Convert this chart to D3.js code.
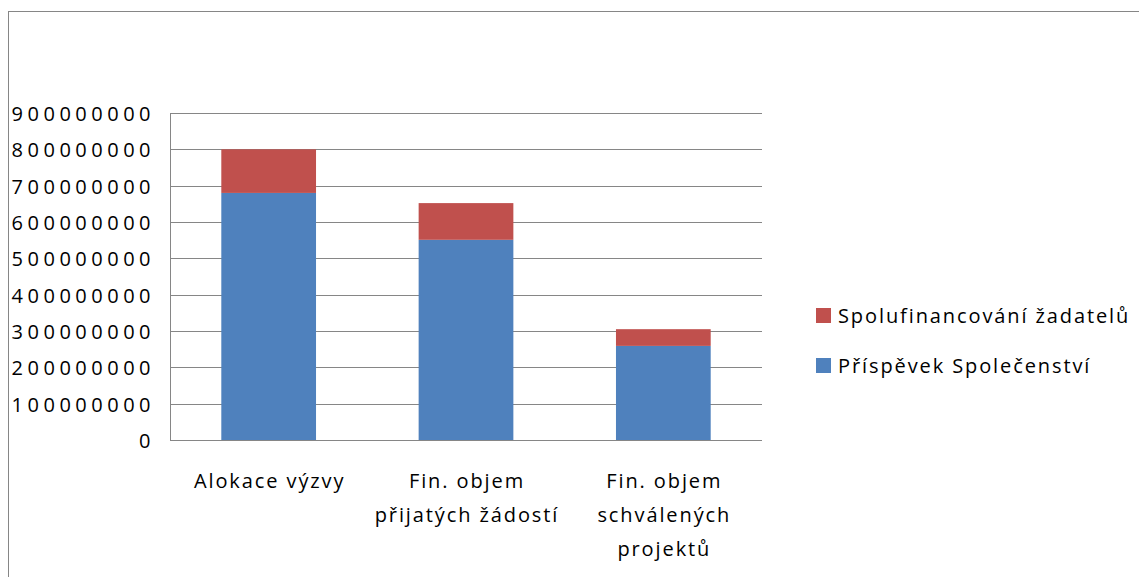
<!DOCTYPE html>
<html>
<head>
<meta charset="utf-8">
<script src="https://cdn.jsdelivr.net/npm/d3@7"></script>
<style>
  body { margin: 0; background: #fff; }
  svg text { font-family: "Open Sans", sans-serif; fill: #000; }
</style>
</head>
<body>
<div id="chart"></div>
<script>
// data
const categories = [
  ["Alokace výzvy"],
  ["Fin. objem", "přijatých žádostí"],
  ["Fin. objem", "schválených", "projektů"]
];
const prispevek = [680000000, 551000000, 259000000];
const spolufin = [120000000, 101000000, 46000000];
const seriesNames = ["Příspěvek Společenství", "Spolufinancování žadatelů"];
const yTicks = [0, 100000000, 200000000, 300000000, 400000000, 500000000, 600000000, 700000000, 800000000, 900000000];

const W = 1139, H = 577;
const plot = { left: 170, right: 762, top: 113, bottom: 440 };
const colors = ["#4F81BD", "#C0504D"];

const svg = d3.select("#chart").append("svg")
  .attr("width", W)
  .attr("height", H);

// outer chart border (runs off the right and bottom edge)
svg.append("rect")
  .attr("x", 8.5).attr("y", 11.5)
  .attr("width", 1300).attr("height", 700)
  .attr("fill", "none")
  .attr("stroke", "#868686");

const x = d3.scaleBand()
  .domain(d3.range(categories.length))
  .range([plot.left, plot.right])
  .paddingInner(0.52)
  .paddingOuter(0.26);

const y = d3.scaleLinear()
  .domain([0, 900000000])
  .range([plot.bottom, plot.top]);

// gridlines
svg.append("g")
  .selectAll("line")
  .data(yTicks)
  .join("line")
  .attr("x1", plot.left).attr("x2", plot.right)
  .attr("y1", d => Math.round(y(d)) + 0.5)
  .attr("y2", d => Math.round(y(d)) + 0.5)
  .attr("stroke", "#868686");

// left axis line
svg.append("line")
  .attr("x1", plot.left + 0.5).attr("x2", plot.left + 0.5)
  .attr("y1", plot.top).attr("y2", plot.bottom)
  .attr("stroke", "#868686");

// y tick labels
svg.append("g")
  .selectAll("text")
  .data(yTicks)
  .join("text")
  .attr("x", 155)
  .attr("y", d => y(d) + 1)
  .attr("dy", "0.35em")
  .attr("text-anchor", "end")
  .style("font-size", "20px")
  .style("letter-spacing", "4.5px")
  .text(d => d);

// stacked bars
const stacked = d3.stack().keys([0, 1])(prispevek.map((v, i) => [v, spolufin[i]]));

svg.append("g")
  .selectAll("g")
  .data(stacked)
  .join("g")
  .attr("fill", (d, i) => colors[i])
  .selectAll("rect")
  .data(d => d)
  .join("rect")
  .attr("x", (d, i) => x(i))
  .attr("width", x.bandwidth())
  .attr("y", d => y(d[1]))
  .attr("height", d => y(d[0]) - y(d[1]));

// category labels
const catG = svg.append("g")
  .selectAll("text")
  .data(categories)
  .join("text")
  .attr("text-anchor", "middle")
  .style("font-size", "20px")
  .style("letter-spacing", "1.9px");

catG.selectAll("tspan")
  .data((d, i) => d.map(t => ({ t, i })))
  .join("tspan")
  .attr("x", d => x(d.i) + x.bandwidth() / 2 + 1)
  .attr("y", (d, j) => 488 + j * 34)
  .text(d => d.t);

// legend (red on top, blue below)
const legendItems = [1, 0];
const leg = svg.append("g")
  .selectAll("g")
  .data(legendItems)
  .join("g")
  .attr("transform", (d, i) => `translate(816,${308 + i * 50})`);

leg.append("rect")
  .attr("width", 15).attr("height", 15)
  .attr("fill", d => colors[d]);

leg.append("text")
  .attr("x", 22)
  .attr("y", 8)
  .attr("dy", "0.35em")
  .style("font-size", "20px")
  .style("letter-spacing", "1.9px")
  .text(d => seriesNames[d]);
</script>
</body>
</html>
